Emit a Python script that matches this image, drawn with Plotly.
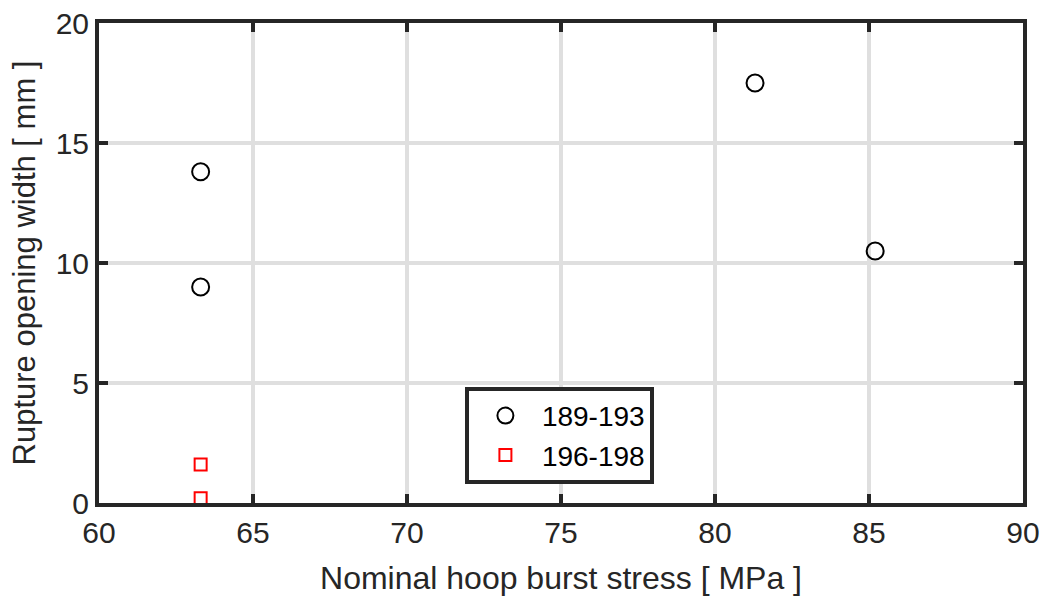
import plotly.graph_objects as go

# Measured rupture opening widths versus nominal hoop burst stress
stress_189_193 = [63.3, 63.3, 81.3, 85.2]
width_189_193 = [13.8, 9.0, 17.5, 10.5]

stress_196_198 = [63.3, 63.3]
width_196_198 = [1.6, 0.2]

x_ticks = [60, 65, 70, 75, 80, 85, 90]
y_ticks = [0, 5, 10, 15, 20]

FONT = "Liberation Sans, Arial, Helvetica, sans-serif"
DARK = "#262626"
GRID = "#dfdfdf"

fig = go.Figure()
fig.add_trace(go.Scatter(
    x=stress_189_193, y=width_189_193, mode="markers", name="189-193",
    marker=dict(symbol="circle-open", size=17, color="black", line=dict(width=2, color="black")),
))
fig.add_trace(go.Scatter(
    x=stress_196_198, y=width_196_198, mode="markers", name="196-198",
    marker=dict(symbol="square-open", size=12, color="red", line=dict(width=2, color="red")),
))

axis_common = dict(
    showline=True, linewidth=4, linecolor=DARK, mirror="ticks",
    ticks="inside", ticklen=9, tickwidth=4, tickcolor=DARK,
    showgrid=True, gridcolor=GRID, gridwidth=4, zeroline=False,
    automargin=False,
    tickfont=dict(family=FONT, size=30, color=DARK),
)

fig.update_layout(
    width=1046, height=598,
    margin=dict(l=99, r=23, t=23, b=95, pad=0),
    paper_bgcolor="white", plot_bgcolor="white",
    font=dict(family=FONT, size=30, color=DARK),
    xaxis=dict(range=[60, 90], tickvals=x_ticks,
               title=dict(text="Nominal hoop burst stress [ MPa ]", font=dict(size=32), standoff=20),
               **axis_common),
    yaxis=dict(range=[0, 20], tickvals=y_ticks,
               title=dict(text="Rupture opening width [ mm ]", font=dict(size=31), standoff=12),
               **axis_common),
    legend=dict(
        x=0.396, y=0.242, xanchor="left", yanchor="top",
        bgcolor="white", bordercolor=DARK, borderwidth=4,
        font=dict(family=FONT, size=28, color="black"),
        itemwidth=63, tracegroupgap=0,
    ),
)

fig.write_html("out.html")
